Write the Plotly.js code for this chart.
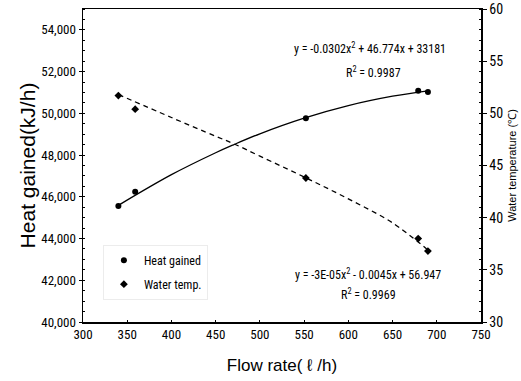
<!DOCTYPE html>
<html><head><meta charset="utf-8">
<script src="https://cdn.plot.ly/plotly-3.0.1.min.js"></script>
<style>html,body{margin:0;padding:0;background:#fff}</style>
</head><body>
<div id="chart" style="width:521px;height:381px"></div>
<script>
// Measured points
var flowRate   = [340, 359, 552, 679, 690];
var heatGained = [45560, 46240, 49760, 51080, 51020];
var waterTemp  = [51.7, 50.4, 43.8, 38.0, 36.8];
// Trend curves
var trendX     = [340, 400, 450, 470, 500, 550, 600, 650, 690];
var heatTrend  = [45590, 47060, 48110, 48490, 49020, 49770, 50370, 50820, 51080];
var waterTrend = [51.8, 49.6, 47.8, 47.1, 45.9, 43.9, 41.8, 39.5, 36.9];
var eqHeat  = ["y = -0.0302x<sup>2</sup> + 46.774x + 33181", "R<sup>2</sup> = 0.9987"];
var eqWater = ["y = -3E-05x<sup>2</sup> - 0.0045x + 56.947", "R<sup>2</sup> = 0.9969"];

var F = "'Roboto Condensed', 'Liberation Sans', Arial, sans-serif";
var S = "'Liberation Sans', Arial, sans-serif";
var traces = [
  {x: trendX, y: heatTrend, mode: 'lines', line: {color: '#000', width: 1.3, shape: 'spline'}, showlegend: false, hoverinfo: 'skip'},
  {x: trendX, y: waterTrend, yaxis: 'y2', mode: 'lines', line: {color: '#000', width: 1.3, dash: '5px,4px', shape: 'spline'}, showlegend: false, hoverinfo: 'skip'},
  {x: flowRate, y: heatGained, mode: 'markers', name: 'Heat gained', legendgroup: 'a', marker: {symbol: 'circle', size: 6, color: '#000'}},
  {x: flowRate, y: waterTemp, yaxis: 'y2', mode: 'markers', name: 'Water temp.', legendgroup: 'b', marker: {symbol: 'diamond', size: 6, color: '#000'}}
];
function ann(x, y, t) {
  return {xref: 'paper', yref: 'paper', x: x, y: y, text: t, showarrow: false,
    font: {family: F, size: 12}, xanchor: 'center', yanchor: 'middle'};
}
var layout = {
  width: 521, height: 381,
  margin: {l: 83, r: 40, t: 9, b: 59},
  paper_bgcolor: '#fff', plot_bgcolor: '#fff',
  font: {family: F, color: '#000', size: 13},
  xaxis: {range: [300, 750], dtick: 50, showgrid: false, zeroline: false,
    showline: true, linecolor: '#000', linewidth: 1.5, mirror: true,
    ticks: 'inside', ticklen: 2, tickcolor: '#000',
    tickfont: {family: F, size: 13},
    title: {text: 'Flow rate( ℓ /h)', font: {family: S, size: 17}, standoff: 18}},
  yaxis: {range: [40000, 55000], dtick: 2000, tickformat: ',', showgrid: false, zeroline: false,
    showline: true, linecolor: '#000', linewidth: 1.5,
    ticks: 'outside', ticklen: 3, tickcolor: '#000',
    minor: {dtick: 500, ticks: 'inside', ticklen: 2, tickcolor: '#000'},
    tickfont: {family: F, size: 13},
    title: {text: 'Heat gained(kJ/h)', font: {family: S, size: 21}, standoff: 0}},
  yaxis2: {range: [30, 60], dtick: 5, overlaying: 'y', side: 'right', showgrid: false, zeroline: false,
    showline: true, linecolor: '#000', linewidth: 1.5,
    ticks: 'outside', ticklen: 4, tickcolor: '#000',
    minor: {dtick: 1, ticks: 'inside', ticklen: 2, tickcolor: '#000'},
    tickfont: {family: F, size: 14},
    title: {text: 'Water temperature (℃)', font: {family: S, size: 11}, standoff: 6}},
  legend: {x: 0.05, y: 0.247, xanchor: 'left', yanchor: 'top', bgcolor: 'rgba(0,0,0,0)',
    bordercolor: '#ececec', borderwidth: 1, font: {family: F, size: 12}, tracegroupgap: 5, itemwidth: 30},
  annotations: [
    ann(0.721, 0.875, eqHeat[0]), ann(0.729, 0.799, eqHeat[1]),
    ann(0.717, 0.153, eqWater[0]), ann(0.717, 0.089, eqWater[1])
  ]
};
Plotly.newPlot('chart', traces, layout, {staticPlot: true, displayModeBar: false});
</script>
</body></html>
